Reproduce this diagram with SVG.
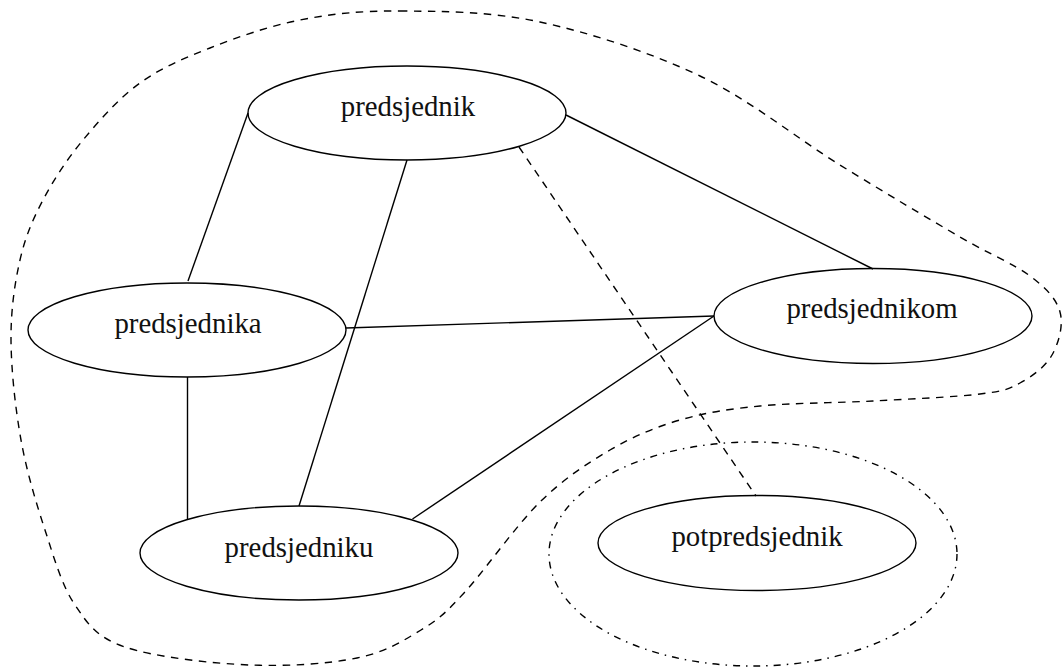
<svg xmlns="http://www.w3.org/2000/svg" width="1063" height="668" viewBox="0 0 1063 668">
  <style>
    .node ellipse { fill: none; stroke: #000; stroke-width: 1.4; }
    .node text { font-family: "Liberation Serif", "Times New Roman", serif; font-size: 28.8px; fill: #111; text-anchor: middle; }
    .edge { stroke: #000; stroke-width: 1.4; fill: none; }
    .dashed { stroke-dasharray: 7.5 6.5; }
    .region { fill: none; stroke: #000; stroke-width: 1.4; }
  </style>
  <rect width="1063" height="668" fill="#fff"/>

  <!-- outer cluster boundary -->
  <path class="region" stroke-dasharray="7.5 6.5" d="M400,11
    C440,11.3 490,11.2 540,22
    C590,32.8 650,52.2 700,76
    C750,99.8 796.7,138.2 840,165
    C883.3,191.8 928.3,218.5 960,237
    C991.7,255.5 1013.3,263.5 1030,276
    C1046.7,288.5 1056.3,298.8 1060,312
    C1063.7,325.2 1058.7,343.2 1052,355
    C1045.3,366.8 1032,376.5 1020,383
    C1008,389.5 1004.5,391 980,394
    C955.5,397 909.7,399 873,401
    C836.3,403 792.2,402.8 760,406
    C727.8,409.2 705,412.7 680,420
    C655,427.3 633.3,436.3 610,450
    C586.7,463.7 564.3,478.2 540,502
    C515.7,525.8 483.8,571.7 464,593
    C444.2,614.3 438.8,619.2 421,630
    C403.2,640.8 385.5,652.2 357,658
    C328.5,663.8 288.7,666.5 250,665
    C211.3,663.5 154.2,657 125,647
    C95.8,637 88.3,624.5 75,605
    C61.7,585.5 54,557.5 45,530
    C36,502.5 26.7,471.7 21,440
    C15.3,408.3 11.2,370 11,340
    C10.8,310 14.7,283.3 20,260
    C25.3,236.7 32.5,220 43,200
    C53.5,180 66.8,159.5 83,140
    C99.2,120.5 118.8,98.3 140,83
    C161.2,67.7 183.3,58.5 210,48
    C236.7,37.5 268.3,26.2 300,20
    C331.7,13.8 360,10.7 400,11 Z"/>

  <!-- inner cluster boundary -->
  <ellipse class="region" cx="753" cy="554" rx="204" ry="112" stroke-dasharray="7 6 1.5 6"/>

  <g id="connectors">
    <line class="edge" x1="248" y1="113" x2="188" y2="281"/>
    <line class="edge" x1="407" y1="160" x2="299" y2="506"/>
    <line class="edge" x1="566" y1="115" x2="873" y2="269"/>
    <line class="edge dashed" x1="519" y1="147" x2="756" y2="496"/>
    <line class="edge" x1="346" y1="328" x2="714" y2="316"/>
    <line class="edge" x1="187.5" y1="377" x2="187.5" y2="519"/>
    <line class="edge" x1="412.5" y1="519" x2="714" y2="316"/>
  </g>

  <g id="predsjednik" class="node">
    <ellipse cx="407" cy="113" rx="159" ry="47"/>
    <text x="408" y="116">predsjednik</text>
  </g>
  <g id="predsjednika" class="node">
    <ellipse cx="187" cy="330" rx="159" ry="47"/>
    <text x="188" y="333">predsjednika</text>
  </g>
  <g id="predsjednikom" class="node">
    <ellipse cx="873" cy="316" rx="159" ry="47.5"/>
    <text x="872" y="318">predsjednikom</text>
  </g>
  <g id="predsjedniku" class="node">
    <ellipse cx="299" cy="553" rx="159" ry="47"/>
    <text x="299" y="557">predsjedniku</text>
  </g>
  <g id="potpredsjednik" class="node">
    <ellipse cx="757" cy="543" rx="159" ry="47.5"/>
    <text x="757" y="546">potpredsjednik</text>
  </g>
</svg>
